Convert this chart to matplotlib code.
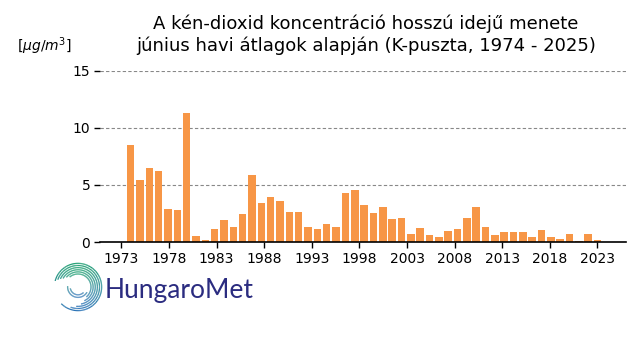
import numpy as np
import matplotlib
matplotlib.use('Agg')
import matplotlib.pyplot as plt
from matplotlib.collections import LineCollection
from matplotlib.colors import to_rgb

# ---- data ----
years = list(range(1974, 2025))
so2 = [8.46, 5.41, 6.45, 6.19, 2.88, 2.79, 11.25, 0.52, 0.17, 1.13,
       1.92, 1.31, 2.44, 5.84, 3.40, 3.92, 3.58, 2.62, 2.62, 1.31,
       1.13, 1.57, 1.31, 4.27, 4.53, 3.23, 2.53, 3.05, 2.00, 2.09,
       0.70, 1.22, 0.64, 0.44, 0.96, 1.13, 2.09, 3.05, 1.31, 0.61,
       0.87, 0.87, 0.87, 0.44, 1.05, 0.44, 0.26, 0.70, 0.09, 0.70, 0.17]
tick_labels = ['1973', '1978', '1983', '1988', '1993', '1998',
               '2003', '2008', '2013', '2018', '2023']
y_ticks = [0, 5, 10, 15]

title = ("A kén-dioxid koncentráció hosszú idejű menete\n"
         "június havi átlagok alapján (K-puszta, 1974 - 2025)")
unit = r'[$\mu g/m^3$]'

W, H = 640, 360
fig = plt.figure(figsize=(W / 100, H / 100), dpi=100)
ax = fig.add_axes([100 / W, 1 - 242 / H, 525.5 / W, (242 - 70.5) / H])

pos = np.arange(len(years))
ax.bar(pos, so2, width=0.8, color='#F79646', zorder=2)

ax.set_xlim(-3.29, 53.0)
ax.set_ylim(0, 15)
ax.set_xticks(np.linspace(-1, 50, len(tick_labels)))
ax.set_xticklabels(tick_labels, fontsize=10)
ax.set_yticks(y_ticks)
ax.set_yticklabels([str(v) for v in y_ticks], fontsize=10)
ax.tick_params(axis='both', length=4, width=1, color='black', pad=3)

for s in ['top', 'right', 'left']:
    ax.spines[s].set_visible(False)
ax.spines['bottom'].set_linewidth(1.2)
ax.yaxis.grid(True, linestyle=(0, (3, 2)), color='#888888', linewidth=0.8)
ax.set_axisbelow(True)

fig.text(0.572, 1 - 55 / H, title, ha='center', va='bottom',
         multialignment='center', fontsize=13, linespacing=1.25)
fig.text(17 / W, 1 - 46 / H, unit, ha='left', va='center', fontsize=10)

# ---- HungaroMet logo ----
lax = fig.add_axes([52 / W, 1 - 313 / H, 52 / W, 52 / H])
lax.set_xlim(-1.1, 1.1)
lax.set_ylim(-1.1, 1.1)
lax.set_aspect('equal')
lax.axis('off')
green = np.array(to_rgb('#12996a'))
blue = np.array(to_rgb('#2670b5'))
rings = [(1.00, -135, 165), (0.91, -110, 160), (0.82, -95, 155),
         (0.73, -80, 150), (0.64, -65, 140), (0.55, -50, 130),
         (0.44, 175, 330), (0.33, 190, 315)]
for r, a0, a1 in rings:
    th = np.radians(np.linspace(a0, a1, 120))
    x, y = r * np.cos(th), r * np.sin(th)
    pts = np.column_stack([x, y]).reshape(-1, 1, 2)
    segs = np.concatenate([pts[:-1], pts[1:]], axis=1)
    t = (np.sin(th[:-1]) + 1) / 2
    cols = [tuple(blue * (1 - k) + green * k) for k in t]
    lax.add_collection(LineCollection(segs, colors=cols, linewidths=0.9))

fig.text(105 / W, 1 - 298 / H, 'HungaroMet', ha='left', va='baseline',
         fontsize=19, color='#2b2c80', family=['Lato', 'DejaVu Sans'],
         fontweight='normal')

fig.savefig('out.png', dpi=100)
